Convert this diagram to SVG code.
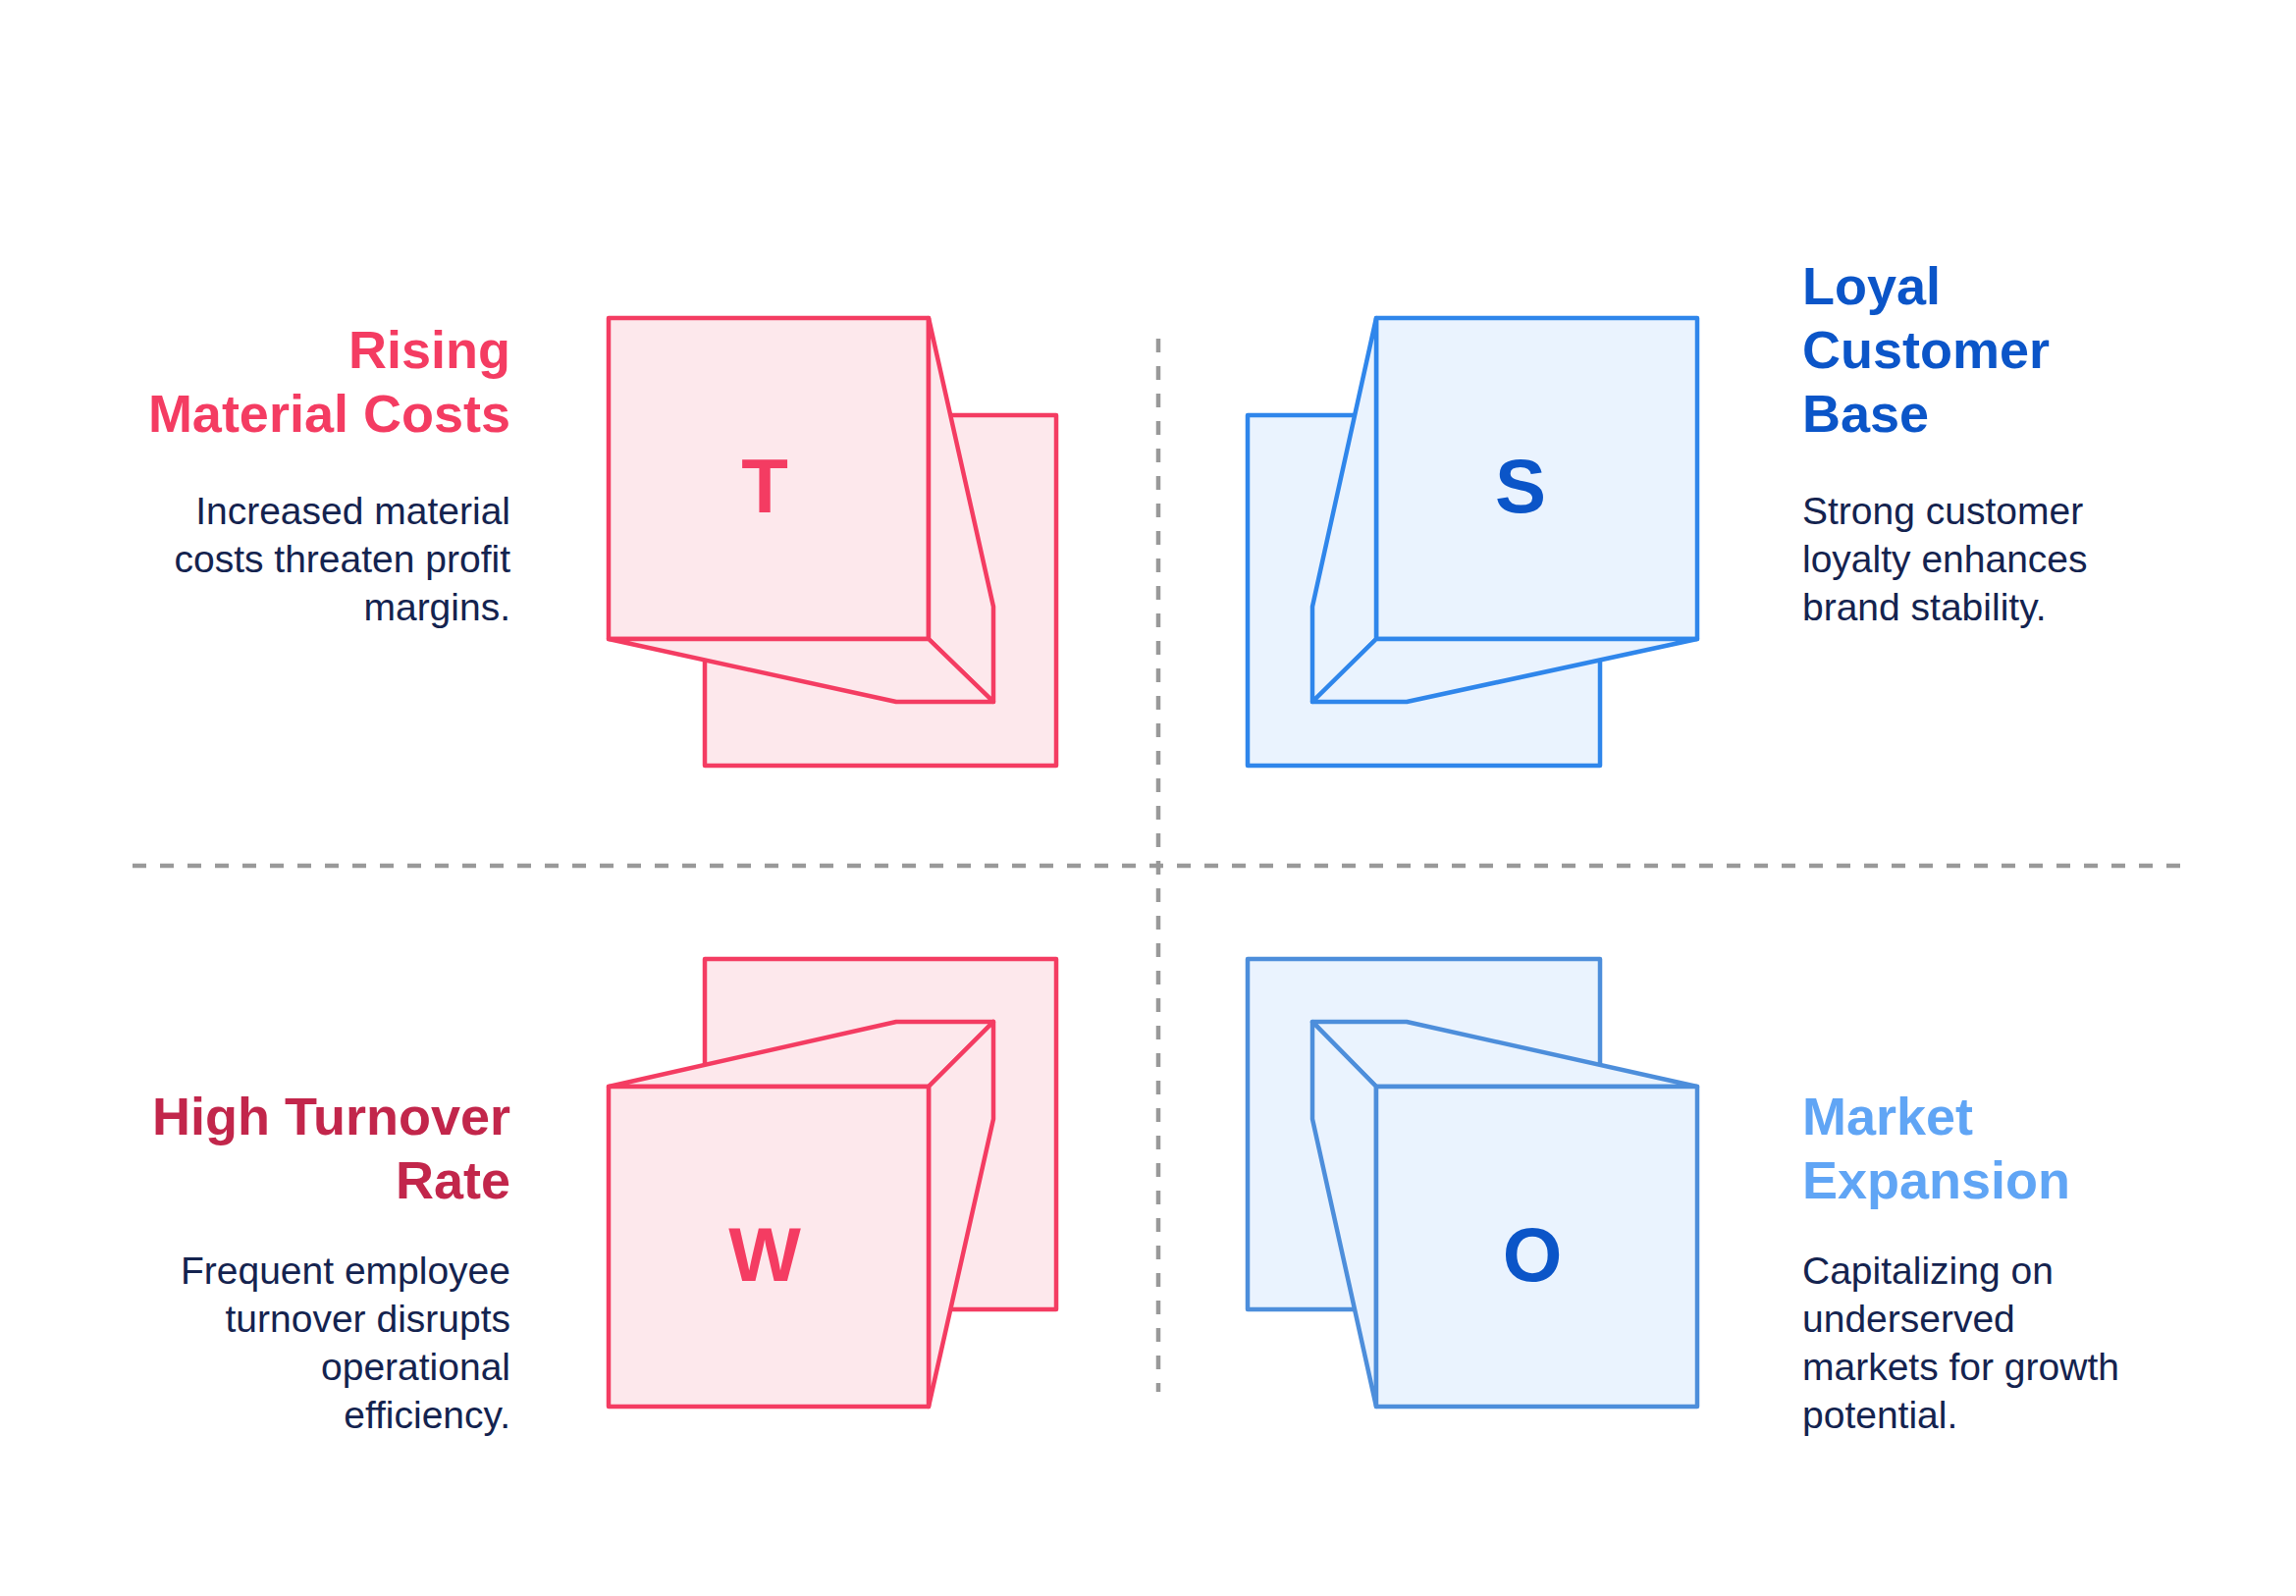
<svg xmlns="http://www.w3.org/2000/svg" width="2339" height="1626" viewBox="0 0 2339 1626">
<style>
.p{fill:#fde8ec;stroke:#f43c62;stroke-width:4.5;stroke-linejoin:round}
.b{fill:#eaf3fe;stroke:#2f86eb;stroke-width:4.5;stroke-linejoin:round}
.bo{fill:#eaf3fe;stroke:#4d8edb;stroke-width:4.5;stroke-linejoin:round}
.h{font-family:"Liberation Sans",Arial,sans-serif;font-weight:bold;font-size:54px}
.d{font-family:"Liberation Sans",Arial,sans-serif;font-size:39px;fill:#14234f}
.l{font-family:"Liberation Sans",Arial,sans-serif;font-weight:bold;font-size:78px;text-anchor:middle}
.dash{stroke:#999;stroke-width:4.5;stroke-dasharray:14 14;fill:none}
</style>
<rect width="2339" height="1626" fill="#fff"/>
<g id="connectors">
<line class="dash" x1="1180" y1="345" x2="1180" y2="1418"/>
<line class="dash" x1="135" y1="882" x2="2223" y2="882"/>
</g>
<g transform="translate(-5,-3)">
<g id="T">
<rect class="p" x="723" y="426" width="358" height="357"/>
<rect class="p" x="625" y="327" width="326" height="327"/>
<polygon class="p" points="951,327 1017,621 1017,718 951,654"/>
<polygon class="p" points="625,654 918,718 1017,718 951,654"/>
<text class="l" x="784" y="525" fill="#f43c62">T</text>
</g>
<g id="S">
<rect class="b" x="1276" y="426" width="359" height="357"/>
<rect class="b" x="1407" y="327" width="327" height="327"/>
<polygon class="b" points="1407,327 1342,621 1342,718 1407,654"/>
<polygon class="b" points="1734,654 1438,718 1342,718 1407,654"/>
<text class="l" x="1554" y="525" fill="#0b55c8">S</text>
</g>
<g id="W">
<rect class="p" x="723" y="980" width="358" height="357"/>
<polygon class="p" points="625,1110 918,1044 1017,1044 951,1110"/>
<polygon class="p" points="951,1110 1017,1044 1017,1143 951,1436"/>
<rect class="p" x="625" y="1110" width="326" height="326"/>
<text class="l" x="784" y="1308" fill="#f43c62">W</text>
</g>
<g id="O">
<rect class="bo" x="1276" y="980" width="359" height="357"/>
<polygon class="bo" points="1342,1044 1438,1044 1734,1110 1407,1110"/>
<polygon class="bo" points="1342,1044 1407,1110 1407,1436 1342,1143"/>
<rect class="bo" x="1407" y="1110" width="327" height="326"/>
<text class="l" x="1566" y="1308" fill="#0b55c8">O</text>
</g>
</g>
<g id="T-text">
<text class="h" x="520" y="375" fill="#f43c62" text-anchor="end">Rising</text>
<text class="h" x="520" y="440" fill="#f43c62" text-anchor="end">Material Costs</text>
<text class="d" x="520" y="534" text-anchor="end">Increased material</text>
<text class="d" x="520" y="583" text-anchor="end">costs threaten profit</text>
<text class="d" x="520" y="632" text-anchor="end">margins.</text>
</g>
<g id="S-text">
<text class="h" x="1836" y="310" fill="#0b55c8">Loyal</text>
<text class="h" x="1836" y="375" fill="#0b55c8">Customer</text>
<text class="h" x="1836" y="440" fill="#0b55c8">Base</text>
<text class="d" x="1836" y="534">Strong customer</text>
<text class="d" x="1836" y="583">loyalty enhances</text>
<text class="d" x="1836" y="632">brand stability.</text>
</g>
<g id="W-text">
<text class="h" x="520" y="1156" fill="#c2264b" text-anchor="end">High Turnover</text>
<text class="h" x="520" y="1221" fill="#c2264b" text-anchor="end">Rate</text>
<text class="d" x="520" y="1308" text-anchor="end">Frequent employee</text>
<text class="d" x="520" y="1357" text-anchor="end">turnover disrupts</text>
<text class="d" x="520" y="1406" text-anchor="end">operational</text>
<text class="d" x="520" y="1455" text-anchor="end">efficiency.</text>
</g>
<g id="O-text">
<text class="h" x="1836" y="1156" fill="#60a5f5">Market</text>
<text class="h" x="1836" y="1221" fill="#60a5f5">Expansion</text>
<text class="d" x="1836" y="1308">Capitalizing on</text>
<text class="d" x="1836" y="1357">underserved</text>
<text class="d" x="1836" y="1406">markets for growth</text>
<text class="d" x="1836" y="1455">potential.</text>
</g>
</svg>
